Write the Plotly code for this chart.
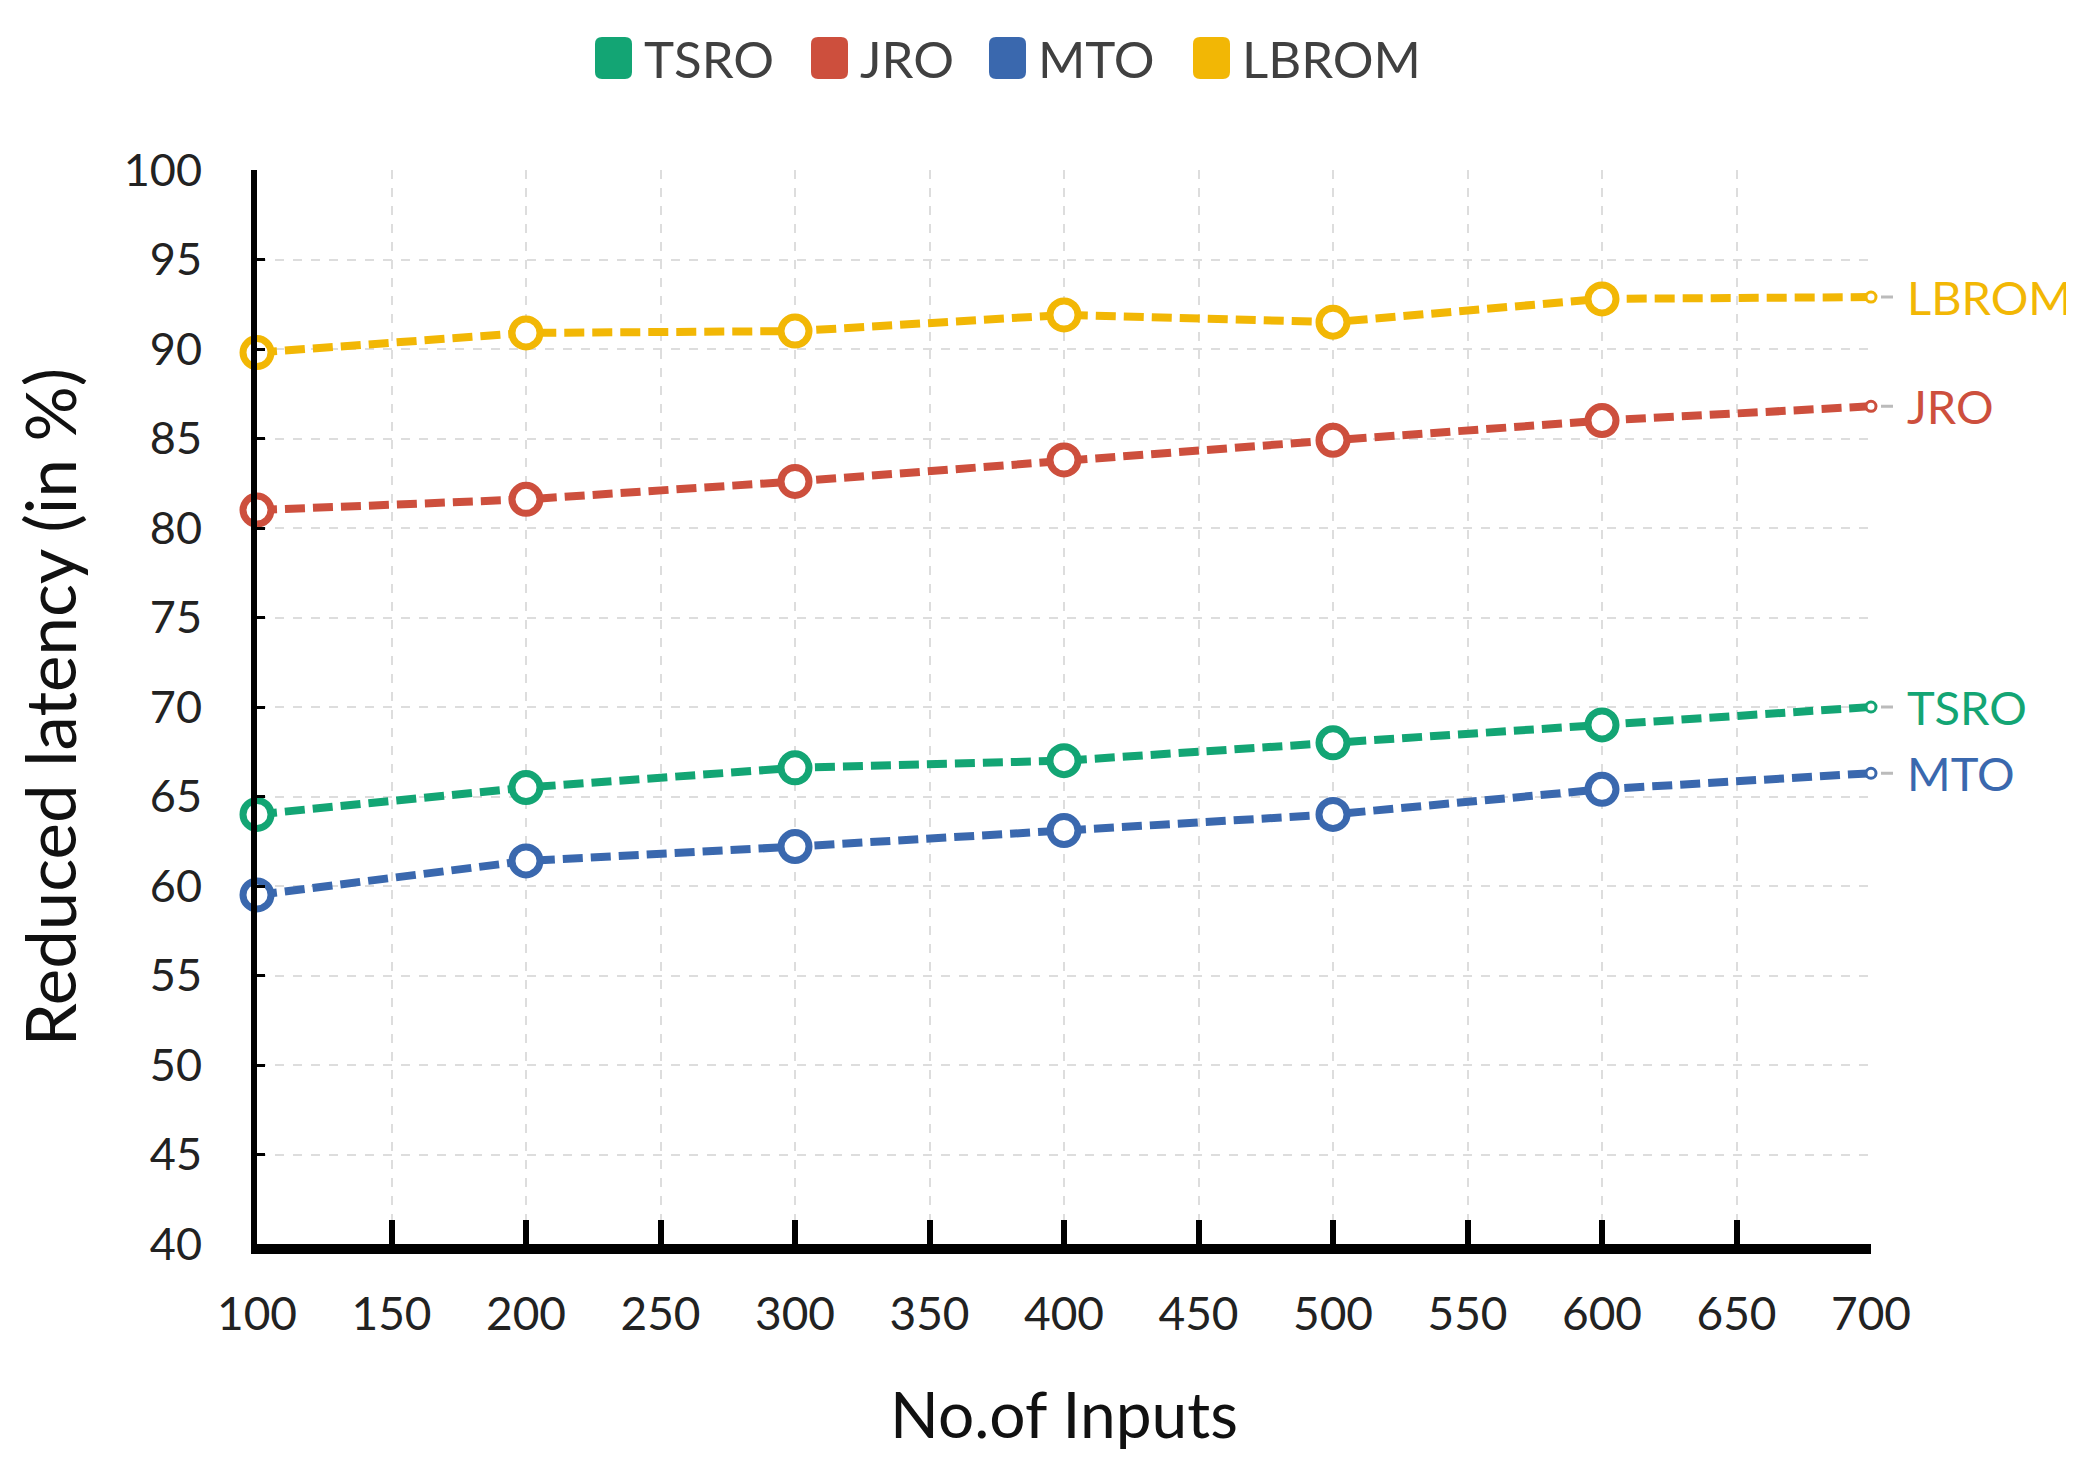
import plotly.graph_objects as go

# ---- data ----
inputs = [100, 200, 300, 400, 500, 600, 700]
series_names = ["TSRO", "JRO", "MTO", "LBROM"]
tsro = [64.0, 65.5, 66.6, 67.0, 68.0, 69.0, 70.0]
jro = [81.0, 81.6, 82.6, 83.8, 84.9, 86.0, 86.8]
mto = [59.5, 61.4, 62.2, 63.1, 64.0, 65.4, 66.3]
lbrom = [89.8, 90.9, 91.0, 91.9, 91.5, 92.8, 92.9]
x_ticks = [100, 150, 200, 250, 300, 350, 400, 450, 500, 550, 600, 650, 700]
y_ticks = [40, 45, 50, 55, 60, 65, 70, 75, 80, 85, 90, 95, 100]

colors = {"TSRO": "#13A574", "JRO": "#CD4F3D", "MTO": "#3A68AE", "LBROM": "#F2B705"}
values = {"TSRO": tsro, "JRO": jro, "MTO": mto, "LBROM": lbrom}

W, H = 2074, 1457
L, R, T, B = 249, 211, 162, 221
PW, PH = W - L - R, H - T - B
FONT = "Lato"

fig = go.Figure()
for name in series_names:
    ys = values[name]
    c = colors[name]
    fig.add_trace(go.Scatter(
        x=inputs, y=ys, mode="lines",
        line=dict(color=c, width=8, dash="20px,8px"),
        showlegend=False, cliponaxis=False, hoverinfo="skip"))
    fig.add_trace(go.Scatter(
        x=inputs[:-1], y=ys[:-1], mode="markers",
        marker=dict(symbol="circle", size=28, color="white",
                    line=dict(color=c, width=7)),
        showlegend=False, cliponaxis=False))
    fig.add_trace(go.Scatter(
        x=inputs[-1:], y=ys[-1:], mode="markers",
        marker=dict(symbol="circle", size=10, color="white",
                    line=dict(color=c, width=3)),
        showlegend=False, cliponaxis=False))
    fig.add_annotation(
        x=inputs[-1], y=ys[-1], xref="x", yref="y",
        text=name, font=dict(family=FONT, size=47, color=c),
        showarrow=True, arrowhead=0, arrowwidth=3, arrowcolor="#bbbbbb",
        ax=34, ay=0, xanchor="left", yanchor="middle",
        standoff=10, startstandoff=12)

# ---- manual legend (rounded colour chips + labels) ----
def px2paper(px, py):
    return (px - L) / PW, (T + PH - py) / PH

def rounded_rect(x0, y0, x1, y1, r):
    def p(x, y):
        a, b = px2paper(x, y)
        return f"{a:.5f},{b:.5f}"
    return (f"M {p(x0 + r, y0)} L {p(x1 - r, y0)} Q {p(x1, y0)} {p(x1, y0 + r)} "
            f"L {p(x1, y1 - r)} Q {p(x1, y1)} {p(x1 - r, y1)} "
            f"L {p(x0 + r, y1)} Q {p(x0, y1)} {p(x0, y1 - r)} "
            f"L {p(x0, y0 + r)} Q {p(x0, y0)} {p(x0 + r, y0)} Z")

legend_chip_x = [587, 803, 981, 1185]
chip_w, chip_top, chip_bot = 37, 29, 71
for name, cx in zip(series_names, legend_chip_x):
    fig.add_shape(type="path", xref="paper", yref="paper",
                  path=rounded_rect(cx, chip_top, cx + chip_w, chip_bot, 7),
                  fillcolor=colors[name], line=dict(width=0))
    ax_, ay_ = px2paper(cx + chip_w + 10, (chip_top + chip_bot) / 2 + 1)
    fig.add_annotation(x=ax_, y=ay_, xref="paper", yref="paper",
                       text=name, showarrow=False, xanchor="left", yanchor="middle",
                       font=dict(family=FONT, size=51, color="#404040"))

grid_color = "#dddddd"
fig.update_layout(
    width=W, height=H,
    margin=dict(l=L, r=R, t=T, b=B, autoexpand=False),
    paper_bgcolor="white", plot_bgcolor="white",
    showlegend=False,
    font=dict(family=FONT, color="#222222"),
    xaxis=dict(
        range=[100, 700], tickvals=x_ticks, ticktext=[str(v) for v in x_ticks],
        showgrid=True, gridcolor=grid_color, gridwidth=2, griddash="dash",
        showline=True, linecolor="black", linewidth=10,
        ticks="inside", ticklen=24, tickwidth=6, tickcolor="black",
        tickfont=dict(family=FONT, size=46, color="#222222"),
        ticklabelstandoff=21,
        title=dict(text="No.of Inputs", font=dict(family=FONT, size=64, color="#111111"),
                   standoff=58),
        zeroline=False, automargin=False),
    yaxis=dict(
        range=[40, 100], tickvals=y_ticks, ticktext=[str(v) for v in y_ticks],
        showgrid=True, gridcolor=grid_color, gridwidth=2, griddash="dash",
        showline=True, linecolor="black", linewidth=6,
        ticks="inside", ticklen=8, tickwidth=3, tickcolor="black",
        tickfont=dict(family=FONT, size=45, color="#222222"),
        ticklabelstandoff=40,
        title=dict(text="Reduced latency (in %)",
                   font=dict(family=FONT, size=69, color="#111111"),
                   standoff=28),
        zeroline=False, automargin=False),
)

fig.write_html("out.html")
